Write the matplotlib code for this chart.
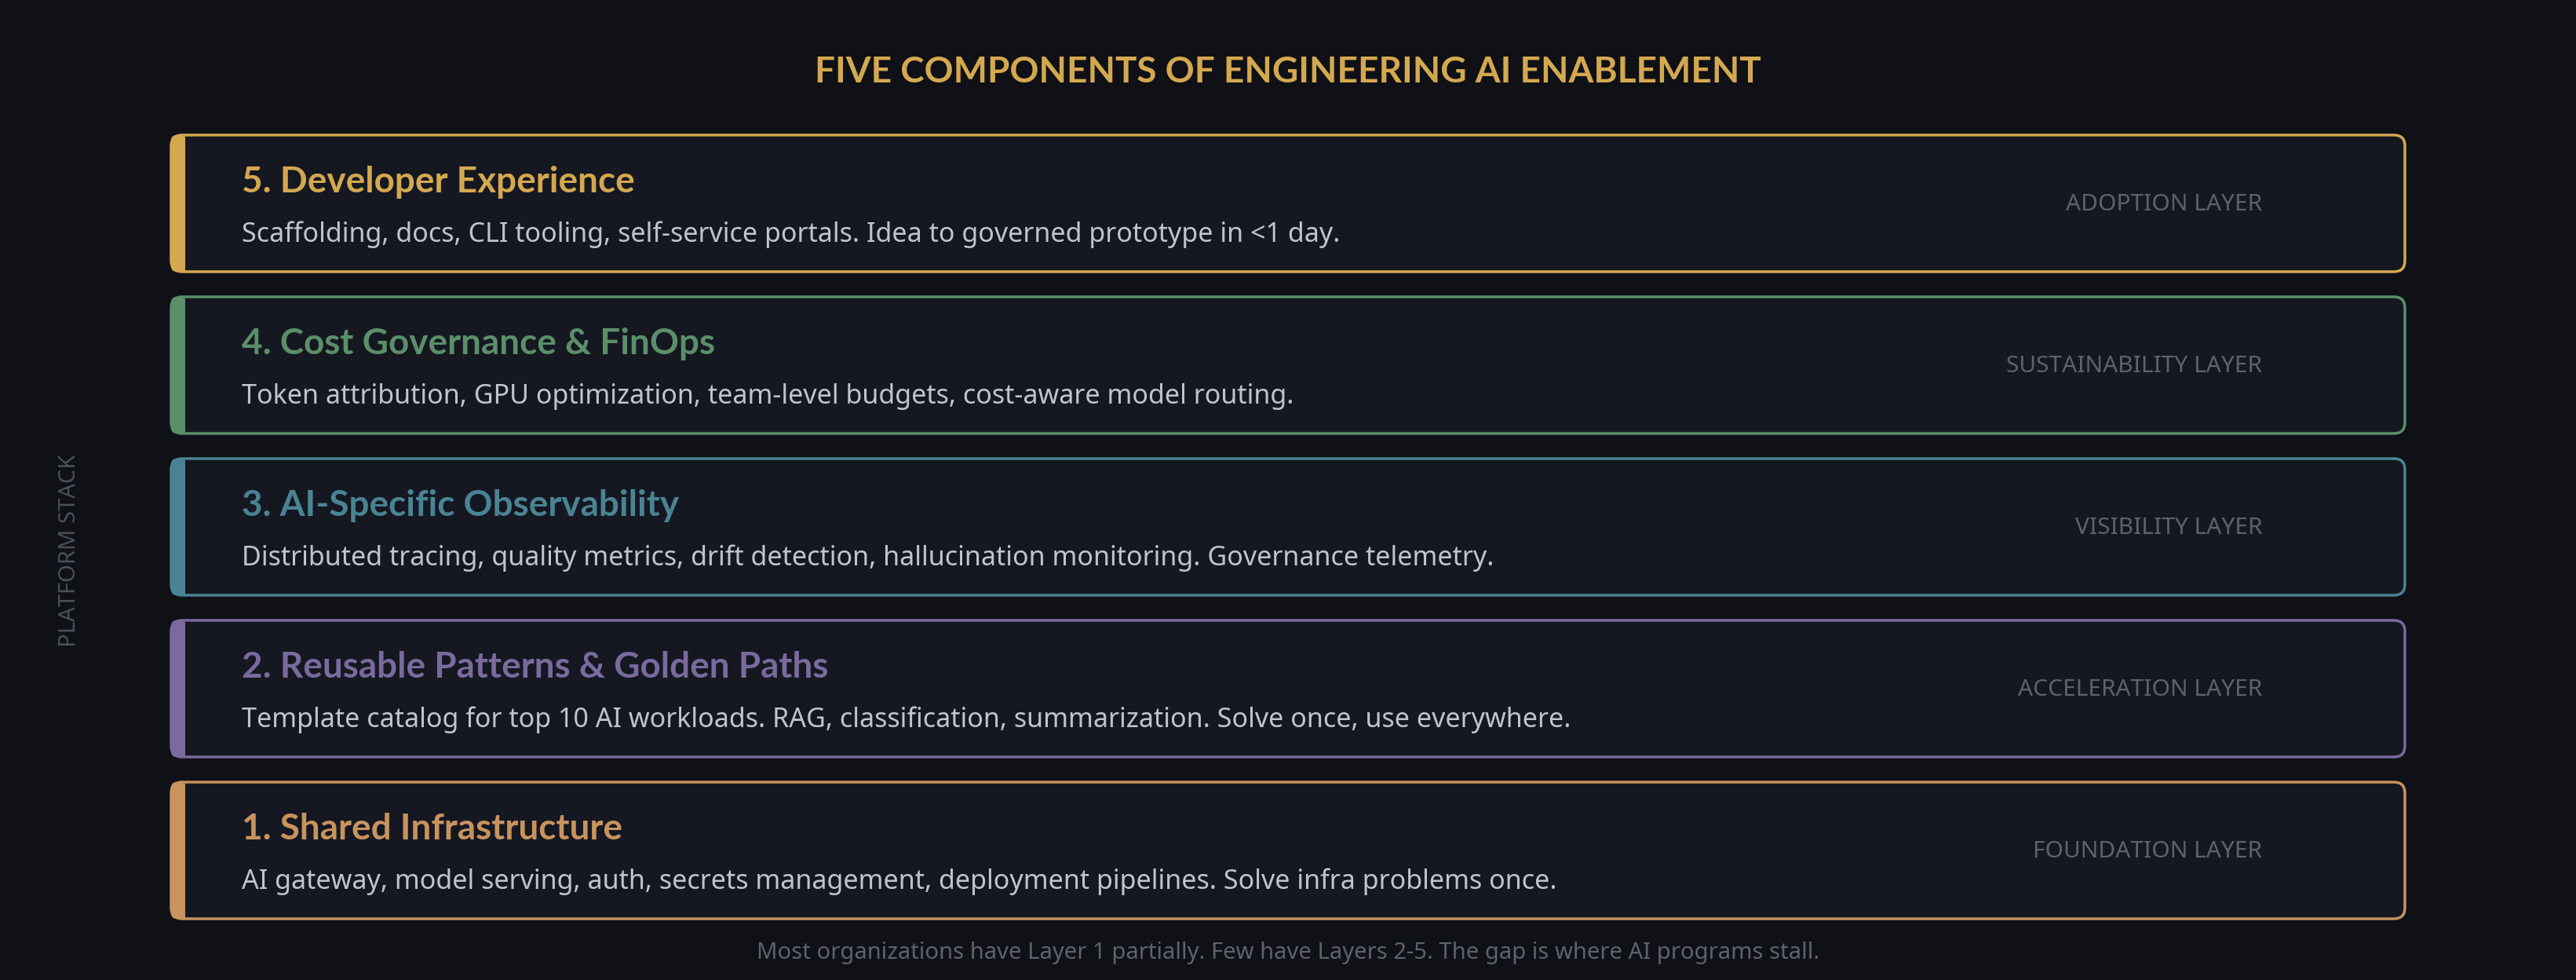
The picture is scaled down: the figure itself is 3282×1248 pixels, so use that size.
import matplotlib.pyplot as plt
from matplotlib.patches import FancyBboxPatch, Rectangle

plt.rcParams['font.family'] = ['Noto Sans', 'DejaVu Sans']
BOLD = ['Lato', 'DejaVu Sans']

titles = ["5. Developer Experience", "4. Cost Governance & FinOps",
          "3. AI-Specific Observability", "2. Reusable Patterns & Golden Paths",
          "1. Shared Infrastructure"]
descs = ["Scaffolding, docs, CLI tooling, self-service portals. Idea to governed prototype in <1 day.",
         "Token attribution, GPU optimization, team-level budgets, cost-aware model routing.",
         "Distributed tracing, quality metrics, drift detection, hallucination monitoring. Governance telemetry.",
         "Template catalog for top 10 AI workloads. RAG, classification, summarization. Solve once, use everywhere.",
         "AI gateway, model serving, auth, secrets management, deployment pipelines. Solve infra problems once."]
layers = ["ADOPTION LAYER", "SUSTAINABILITY LAYER", "VISIBILITY LAYER",
          "ACCELERATION LAYER", "FOUNDATION LAYER"]
colors = ["#d4a84f", "#5a8f6a", "#4a8494", "#7a6a9e", "#c8935e"]

W, H = 3282, 1248
bg = "#0f1117"
fig = plt.figure(figsize=(W / 100, H / 100), dpi=100, facecolor=bg)
ax = fig.add_axes([0, 0, 1, 1])
ax.set_xlim(0, W)
ax.set_ylim(H, 0)
ax.axis("off")
ax.set_facecolor(bg)

ax.text(W / 2, 92, "FIVE COMPONENTS OF ENGINEERING AI ENABLEMENT", color="#d4a84f",
        fontsize=33, fontweight="bold", family=BOLD, ha="center", va="center")

x0, x1 = 218, 3064
top0, bh, pitch = 172, 174, 206
for i, (t, d, lay, c) in enumerate(zip(titles, descs, layers, colors)):
    y = top0 + i * pitch
    ax.add_patch(FancyBboxPatch((x0, y), x1 - x0, bh, boxstyle="round,pad=0,rounding_size=14",
                                facecolor="#151821", edgecolor=c, linewidth=2.5))
    ax.add_patch(FancyBboxPatch((x0, y), 18, bh, boxstyle="round,pad=0,rounding_size=7",
                                facecolor=c, edgecolor=c, linewidth=0))
    ax.add_patch(Rectangle((x0 + 8, y + 1.5), 10, bh - 3, facecolor=c, edgecolor="none"))
    ax.text(308, y + 60, t, color=c, fontsize=33, fontweight="bold", family=BOLD,
            va="center", ha="left")
    ax.text(308, y + 127, d, color="#c0c4cc", fontsize=24.5, va="center", ha="left")
    ax.text(2882, y + bh / 2 + 2, lay, color="#5c6270", fontsize=21.5, va="center", ha="right")

ax.text(88, 701, "PLATFORM STACK", color="#4a505c", fontsize=21, rotation=90,
        ha="center", va="center")
ax.text(W / 2, 1214, "Most organizations have Layer 1 partially. Few have Layers 2-5. The gap is where AI programs stall.",
        color="#5c6270", fontsize=21, ha="center", va="center")

fig.savefig("out.png", dpi=100, facecolor=bg)
